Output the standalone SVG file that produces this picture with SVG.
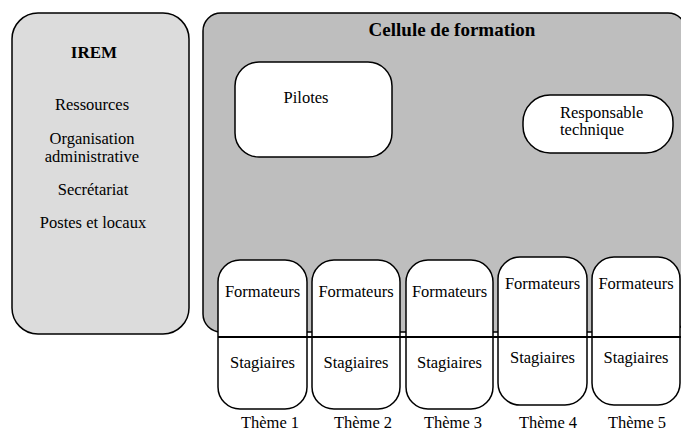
<svg xmlns="http://www.w3.org/2000/svg" width="681" height="430" viewBox="0 0 681 430" font-family="'Liberation Serif', 'Times New Roman', serif">
<style>
text{font-family:'Liberation Serif','Times New Roman',serif;font-size:16.5px;fill:#000}
.b{font-weight:bold}
.c{text-anchor:middle}
.box{stroke:#000;stroke-width:1.5}
.w{fill:#fff}
</style>
<rect width="681" height="430" fill="#fff"/>
<g id="irem">
<rect class="box" x="12" y="13" width="177" height="321" rx="26" fill="#dcdcdc"/>
<text class="b c" x="94" y="58" style="font-size:17px">IREM</text>
<text class="c" x="92" y="110">Ressources</text>
<text class="c" x="92" y="144">Organisation</text>
<text class="c" x="92" y="162">administrative</text>
<text class="c" x="93" y="195">Secrétariat</text>
<text class="c" x="93" y="228">Postes et locaux</text>
</g>
<g id="cellule">
<rect class="box" x="203" y="13" width="483" height="319" rx="18" fill="#bebebe"/>
<text class="b c" x="452" y="36" style="font-size:19px">Cellule de formation</text>
</g>
<g id="pilotes">
<rect class="box w" x="235" y="62" width="157" height="95" rx="24"/>
<text class="c" x="306" y="103">Pilotes</text>
</g>
<g id="responsable">
<rect class="box w" x="523" y="95" width="150" height="58" rx="27"/>
<text x="560" y="118">Responsable</text>
<text x="560" y="135">technique</text>
</g>
<g id="theme1">
<rect class="box w" x="218" y="260" width="89" height="149" rx="22"/>
<text class="c" x="262.5" y="297">Formateurs</text>
<text class="c" x="262.5" y="368">Stagiaires</text>
<text class="c" x="270" y="428">Thème 1</text>
</g>
<g id="theme2">
<rect class="box w" x="312" y="260" width="88" height="149" rx="22"/>
<text class="c" x="356" y="297">Formateurs</text>
<text class="c" x="356" y="368">Stagiaires</text>
<text class="c" x="363" y="428">Thème 2</text>
</g>
<g id="theme3">
<rect class="box w" x="406" y="260" width="87" height="149" rx="22"/>
<text class="c" x="449.5" y="297">Formateurs</text>
<text class="c" x="449.5" y="368">Stagiaires</text>
<text class="c" x="453" y="428">Thème 3</text>
</g>
<g id="theme4">
<rect class="box w" x="498" y="257" width="89" height="148" rx="22"/>
<text class="c" x="542.5" y="289">Formateurs</text>
<text class="c" x="542.5" y="363">Stagiaires</text>
<text class="c" x="548" y="428">Thème 4</text>
</g>
<g id="theme5">
<rect class="box w" x="592" y="257" width="88" height="148" rx="22"/>
<text class="c" x="636" y="289">Formateurs</text>
<text class="c" x="636" y="363">Stagiaires</text>
<text class="c" x="637" y="428">Thème 5</text>
</g>
<g id="connectors">
<line x1="218" y1="337" x2="681" y2="337" stroke="#000" stroke-width="2"/>
</g>
</svg>
